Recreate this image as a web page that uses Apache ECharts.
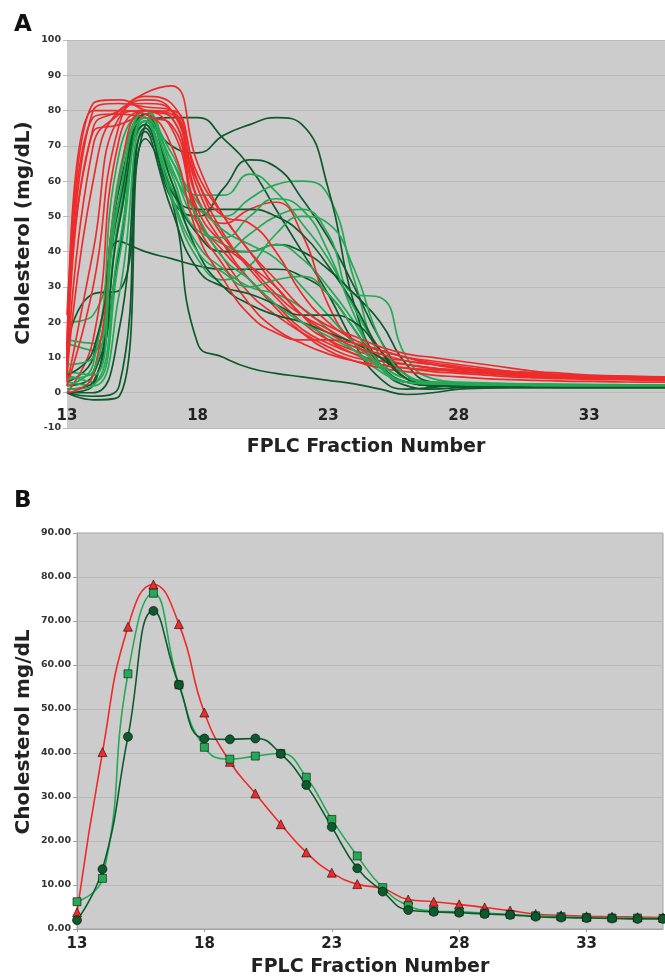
<!DOCTYPE html>
<html>
<head>
<meta charset="utf-8">
<script src="https://cdn.jsdelivr.net/npm/echarts@6/dist/echarts.min.js"></script>
<style>
html, body { margin: 0; padding: 0; background: #fff; }
#chart { width: 665px; height: 979px; }
</style>
</head>
<body>
<div id="chart"></div>
<script>
// FPLC fractions (x values)
const fractions = [13, 14, 15, 16, 17, 18, 19, 20, 21, 22, 23, 24, 25, 26, 27, 28, 29, 30, 31, 32, 33, 34, 35, 36]

// panel A: individual profiles, one row per animal
const redCurves = [
    [5, 80, 82, 81, 80, 55, 42, 32, 25, 18, 14, 11, 9, 8, 7, 6, 5.5, 5, 4.8, 4.5, 4.3, 4.2, 4.1, 4],
    [10, 82, 83, 80, 78, 50, 38, 28, 22, 17, 13, 10, 9, 8, 7, 6.5, 6, 5.5, 5, 4.8, 4.6, 4.5, 4.4, 4.3],
    [3, 74, 76, 79, 80, 60, 45, 35, 27, 20, 15, 12, 10, 9, 8, 7, 6, 5.5, 5, 4.7, 4.5, 4.4, 4.3, 4.2],
    [22, 75, 80, 85, 87, 65, 50, 40, 30, 22, 15, 11, 8, 7, 6, 5.5, 5, 4.5, 4.2, 4, 3.8, 3.7, 3.6, 3.5],
    [2, 40, 78, 80, 79, 55, 48, 52, 54, 45, 25, 14, 10, 8, 7, 6, 5.5, 5, 4.5, 4.3, 4.1, 4, 4, 3.9],
    [0, 15, 72, 80, 78, 50, 40, 32, 24, 17, 12, 9, 7, 6, 5, 4.5, 4, 3.7, 3.5, 3.3, 3.2, 3.1, 3, 3],
    [5, 60, 80, 82, 80, 58, 44, 36, 28, 22, 18, 14, 12, 10, 9, 8, 7, 6, 5.5, 5, 4.8, 4.7, 4.6, 4.5],
    [8, 78, 79, 78, 76, 48, 36, 25, 18, 14, 11, 9, 8, 7, 6.5, 6, 5.5, 5, 4.8, 4.6, 4.4, 4.3, 4.2, 4.1],
    [2, 30, 76, 84, 82, 62, 50, 40, 32, 24, 19, 16, 13, 11, 10, 9, 8, 7, 6, 5.5, 5, 4.8, 4.6, 4.5],
    [0, 5, 60, 80, 75, 52, 42, 36, 30, 22, 17, 13, 11, 9, 8, 7, 6.5, 6, 5.5, 5, 4.8, 4.6, 4.5, 4.4],
    [12, 80, 80, 79, 70, 45, 32, 22, 17, 15, 15, 14, 12, 10, 8, 7, 6, 5, 4.5, 4.2, 4, 3.9, 3.8, 3.7],
    [4, 70, 79, 83, 80, 60, 50, 48, 40, 28, 20, 15, 12, 10, 8.5, 7.5, 6.5, 6, 5.5, 5, 4.8, 4.6, 4.5, 4.4]
]
const greenCurves = [
    [20, 22, 55, 78, 66, 52, 50, 55, 59, 60, 56, 32, 10, 4, 3, 2.5, 2.3, 2.2, 2.1, 2, 2, 2, 2, 2],
    [14, 12, 50, 80, 68, 56, 56, 62, 57, 48, 38, 24, 12, 5, 3, 2.5, 2.4, 2.3, 2.2, 2.1, 2, 2, 2, 2],
    [5, 3, 38, 78, 60, 45, 40, 45, 50, 52, 45, 28, 27, 10, 4, 3, 2.8, 2.6, 2.5, 2.4, 2.3, 2.3, 2.2, 2.2],
    [2, 8, 68, 80, 64, 48, 42, 40, 42, 38, 30, 20, 8, 3, 2.5, 2.3, 2.2, 2.1, 2, 2, 2, 2, 2, 2],
    [15, 14, 48, 77, 58, 42, 35, 30, 28, 24, 18, 12, 6, 3, 2.5, 2.4, 2.3, 2.2, 2.1, 2, 2, 2, 2, 2],
    [3, 2, 28, 76, 55, 38, 32, 36, 45, 50, 48, 35, 15, 5, 3, 2.8, 2.6, 2.5, 2.4, 2.3, 2.2, 2.2, 2.1, 2.1],
    [6, 5, 62, 79, 62, 46, 44, 50, 55, 52, 40, 22, 8, 3, 2.6, 2.4, 2.3, 2.2, 2.1, 2.1, 2, 2, 2, 2],
    [8, 10, 55, 80, 66, 54, 46, 42, 38, 30, 22, 14, 8, 4, 3, 2.8, 2.6, 2.5, 2.4, 2.3, 2.3, 2.2, 2.2, 2.2],
    [1, 2, 42, 77, 56, 40, 34, 30, 32, 33, 28, 18, 7, 3, 2.5, 2.3, 2.2, 2.1, 2, 2, 2, 2, 2, 2],
    [4, 6, 60, 78, 63, 50, 38, 32, 25, 20, 16, 12, 7, 3, 2.5, 2.4, 2.3, 2.2, 2.1, 2, 2, 2, 2, 2]
]
const darkCurves = [
    [0, -1, 2, 76, 78, 78, 72, 64, 52, 40, 28, 14, 4, 1, 1.5, 2, 2, 2, 2, 2, 2, 2, 2, 2],
    [2, 5, 40, 78, 70, 68, 73, 76, 78, 76, 58, 25, 8, 2, 1, 1.5, 1.8, 1.8, 1.8, 1.8, 1.8, 1.8, 1.8, 1.8],
    [3, 10, 58, 77, 55, 50, 58, 66, 64, 55, 44, 30, 15, 5, 2, 1.8, 1.8, 1.7, 1.7, 1.7, 1.7, 1.7, 1.7, 1.7],
    [14, 28, 29, 75, 58, 45, 40, 40, 42, 40, 35, 28, 20, 8, 3, 2.5, 2.3, 2.2, 2.1, 2, 2, 2, 2, 2],
    [0, 2, 43, 40, 38, 36, 35, 35, 35, 33, 28, 18, 8, 3, 2, 1.8, 1.7, 1.6, 1.6, 1.5, 1.5, 1.5, 1.5, 1.5],
    [0, -2, -1, 72, 55, 14, 10, 7, 5.5, 4.5, 3.5, 2.5, 1, -0.5, 0, 1, 1.3, 1.4, 1.4, 1.4, 1.4, 1.4, 1.4, 1.4],
    [1, 3, 48, 76, 57, 52, 52, 52, 50, 45, 36, 25, 12, 4, 2, 1.8, 1.7, 1.6, 1.6, 1.6, 1.6, 1.6, 1.6, 1.6],
    [5, 12, 53, 79, 60, 40, 30, 25, 22, 20, 17, 14, 10, 4, 2, 1.8, 1.7, 1.6, 1.6, 1.6, 1.6, 1.6, 1.6, 1.6],
    [0, 0, 18, 74, 52, 35, 30, 28, 25, 22, 22, 20, 12, 4, 2, 1.8, 1.7, 1.6, 1.6, 1.6, 1.6, 1.6, 1.6, 1.6]
]

// panel B: group means
const meanRed = [3.8, 40.2, 68.7, 78.3, 69.3, 49.2, 38.0, 30.8, 23.8, 17.4, 12.8, 10.2, 9.2, 6.7, 6.2, 5.6, 4.9, 4.2, 3.4, 3.1, 2.9, 2.8, 2.7, 2.6]
const meanGreen = [6.2, 11.5, 58.0, 76.3, 55.5, 41.3, 38.6, 39.3, 39.9, 34.5, 24.9, 16.6, 9.4, 5.3, 4.1, 3.9, 3.6, 3.3, 3.0, 2.8, 2.6, 2.5, 2.5, 2.4]
const meanDark = [2.0, 13.6, 43.7, 72.3, 55.5, 43.3, 43.1, 43.3, 39.8, 32.7, 23.2, 13.8, 8.5, 4.3, 3.9, 3.7, 3.4, 3.2, 2.8, 2.6, 2.5, 2.4, 2.3, 2.3]

const RED = '#ee2b2b'
const GREEN = '#25a955'
const DARK = '#0d5a2c'
const FONT = 'DejaVu Sans'

function pairs(vals) {
    return vals.map((v, i) => [fractions[i], v])
}

function profileLine(vals, color) {
    return {
        type: 'line',
        xAxisIndex: 0,
        yAxisIndex: 0,
        data: pairs(vals),
        smooth: 0.5,
        showSymbol: false,
        symbol: 'none',
        lineStyle: { color: color, width: 1.7 },
        silent: true,
        animation: false
    }
}

function meanLine(vals, color, symbol, size) {
    return {
        type: 'line',
        xAxisIndex: 1,
        yAxisIndex: 1,
        data: pairs(vals),
        smooth: 0.5,
        symbol: symbol,
        symbolSize: size,
        lineStyle: { color: color, width: 1.6 },
        itemStyle: { color: color, borderColor: 'rgba(0,0,0,0.55)', borderWidth: 1 },
        animation: false
    }
}

let series = []
let n = Math.max(redCurves.length, greenCurves.length, darkCurves.length)
for (let i = 0; i < n; i++) {
    if (darkCurves[i]) series.push(profileLine(darkCurves[i], DARK))
    if (redCurves[i]) series.push(profileLine(redCurves[i], RED))
    if (greenCurves[i]) series.push(profileLine(greenCurves[i], GREEN))
}
series.push(meanLine(meanRed, RED, 'triangle', 9))
series.push(meanLine(meanGreen, GREEN, 'rect', 8))
series.push(meanLine(meanDark, DARK, 'circle', 9))

const yLabel = {
    fontFamily: FONT,
    fontWeight: 'bold',
    fontSize: 9.5,
    color: '#333',
    margin: 6
}
const xLabel = {
    fontFamily: FONT,
    fontWeight: 'bold',
    fontSize: 15,
    color: '#222'
}
const axisTitle = {
    fontFamily: FONT,
    fontWeight: 'bold',
    fontSize: 19,
    color: '#222'
}

const chart = echarts.init(document.getElementById('chart'), null, { renderer: 'canvas' })
chart.setOption({
    backgroundColor: '#ffffff',
    animation: false,
    grid: [
        { left: 67, right: 0, top: 40, bottom: 551, show: true, backgroundColor: '#cccccc', borderWidth: 0 },
        { left: 77, right: 2, top: 533, bottom: 50, show: true, backgroundColor: '#cccccc', borderColor: '#a3a3a3', borderWidth: 1 }
    ],
    xAxis: [{
        gridIndex: 0,
        type: 'value',
        min: 13,
        max: 35.9,
        interval: 5,
        // labels sit just under the zero line, inside the plot
        axisLine: { show: false, onZero: false },
        axisTick: { show: false },
        splitLine: { show: false },
        axisLabel: Object.assign({ margin: -19, showMaxLabel: false }, xLabel),
        name: 'FPLC Fraction Number',
        nameLocation: 'middle',
        nameGap: 10,
        nameTextStyle: axisTitle
    }, {
        gridIndex: 1,
        type: 'value',
        min: 13,
        max: 36,
        interval: 5,
        axisLine: { lineStyle: { color: '#a3a3a3' } },
        axisTick: { show: true, length: 3, lineStyle: { color: '#999' } },
        splitLine: { show: false },
        axisLabel: Object.assign({ margin: 8, showMaxLabel: false }, xLabel),
        name: 'FPLC Fraction Number',
        nameLocation: 'middle',
        nameGap: 29,
        nameTextStyle: axisTitle
    }],
    yAxis: [{
        gridIndex: 0,
        type: 'value',
        min: -10,
        max: 100,
        interval: 10,
        axisLine: { show: false },
        axisTick: { show: true, length: 4, lineStyle: { color: '#bbb' } },
        splitLine: { lineStyle: { color: '#bababa', width: 1 } },
        axisLabel: yLabel
    }, {
        gridIndex: 1,
        type: 'value',
        min: 0,
        max: 90,
        interval: 10,
        axisLine: { show: true, lineStyle: { color: '#a3a3a3' } },
        axisTick: { show: true, length: 4, lineStyle: { color: '#999' } },
        splitLine: { lineStyle: { color: '#b9b9b9', width: 1 } },
        axisLabel: Object.assign({}, yLabel, { formatter: v => v.toFixed(2) })
    }],
    graphic: [
        { type: 'text', left: 14, top: 14, style: { text: 'A', font: 'bold 23px "DejaVu Sans"', fill: '#111' } },
        { type: 'text', left: 14, top: 490, style: { text: 'B', font: 'bold 23px "DejaVu Sans"', fill: '#111' } },
        {
            type: 'text', x: 24, y: 233, rotation: Math.PI / 2,
            style: { text: 'Cholesterol (mg/dL)', font: 'bold 20px "DejaVu Sans"', fill: '#222', align: 'center', verticalAlign: 'middle' }
        },
        {
            type: 'text', x: 24, y: 732, rotation: Math.PI / 2,
            style: { text: 'Cholesterol mg/dL', font: 'bold 20px "DejaVu Sans"', fill: '#222', align: 'center', verticalAlign: 'middle' }
        }
    ],
    series: series
})
</script>
</body>
</html>
